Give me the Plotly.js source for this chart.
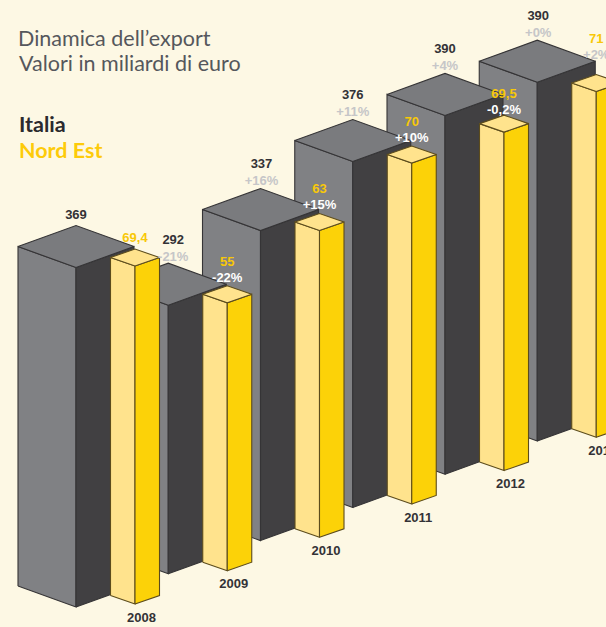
<!DOCTYPE html>
<html><head><meta charset="utf-8">
<script src="https://cdn.plot.ly/plotly-3.0.1.min.js"></script>
<style>html,body{margin:0;padding:0;background:#fdf8e4}#c{width:606px;height:627px}</style>
</head><body><div id="c"></div>
<script>
const years = ['2008','2009','2010','2011','2012','2013'];
const italia = [369,292,337,376,390,390];
const nordEst = [69.4,55,63,70,69.5,71];
const italiaPct = ['','-21%','+16%','+11%','+4%','+0%'];
const nordEstPct = ['','-22%','+15%','+10%','-0,2%','+2%'];
const nordEstLabels = ['69,4','55','63','70','69,5','71'];

const W=606,H=627;
const NARROW='"Liberation Sans", sans-serif';
const stepX=92.25;
// pixel geometry of the oblique projection
const G={x0:76, base:607, rise:33.2, scale:0.92, hw:58, hd:21, axis:'y',
  front:'#808184', side:'#414042', top:'#7a7b7e', line:'#353436'};
const Y={x0:135, base:604, rise:33.35, scale:4.87, hw:24.5, hd:8.5, axis:'y2',
  front:'#ffe38d', side:'#fcd208', top:'#ffe38d', line:'#5c4c1c'};
const GT=Object.assign({},G,{axis:'y3'});
const italiaShift=[0,5,1,0,0,1];
const italiaLift=[0,-1.5,0,0,0,0];
const nordEstLift=[0,0,0,0,-3.5,11.5];

function px(g,i,dx){ return (g.x0-G.x0+dx)/stepX + i; }
function py(g,i,v,up){ return v + (i*g.rise+up)/g.scale; }

function poly(g,i,pts,fill){
  return {type:'scatter',mode:'lines',xaxis:'x',yaxis:g.axis,hoverinfo:'skip',showlegend:false,
    x:pts.map(p=>px(g,i,p[0])), y:pts.map(p=>py(g,i,p[1],p[2])),
    fill:'toself',fillcolor:fill,line:{color:g.line,width:1.1}};
}
function bar(g,i,v){
  const a=g.hw,d=g.hd;
  return [
    poly(g,i,[[-a,0,d],[0,0,0],[0,v,0],[-a,v,d],[-a,0,d]],g.front),
    poly(g,i,[[0,0,0],[a,0,d],[a,v,d],[0,v,0],[0,0,0]],g.side),
    poly(g,i,[[-a,v,d],[0,v,0],[a,v,d],[0,v,2*d],[-a,v,d]],g.top)
  ];
}
const traces=[];
for(let k=years.length-1;k>=0;k--){ traces.push(...bar(G,k,italia[k])); }
for(let k=years.length-1;k>=0;k--){ traces.push(...bar(Y,k,nordEst[k])); }

function textTrace(g,vals,labels,offs,color,size,shift){
  return {type:'scatter',mode:'text',xaxis:'x',yaxis:g.axis,hoverinfo:'skip',showlegend:false,cliponaxis:false,
    x:vals.map((v,i)=>px(g,i,shift?shift[i]:0)),
    y:vals.map((v,i)=>py(g,i,v,2*g.hd+offs[i])),
    text:labels,textposition:'middle center',
    textfont:{family:NARROW,size:size,color:color,weight:700}};
}
const valOff=italiaPct.map(p=>p===''?10:23.5);
traces.push(textTrace(GT,italia,italia.map(String),valOff.map((o,i)=>o+italiaLift[i]),'#333236',13,italiaShift));
traces.push(textTrace(GT,italia,italiaPct,italia.map((v,i)=>6.5+italiaLift[i]),'#c6c6c8',13,italiaShift));
traces.push(textTrace(Y,nordEst,nordEstLabels,valOff.map((o,i)=>o+nordEstLift[i]),'#f8c808',13));
traces.push(textTrace(Y,nordEst,nordEstPct,nordEst.map((v,i)=>7.5+nordEstLift[i]),
  nordEstPct.map((p,i)=>i===nordEstPct.length-1?'#c6c6c8':'#ffffff'),13));
// year labels beneath the Nord Est front corner
traces.push({type:'scatter',mode:'text',xaxis:'x',yaxis:'y2',hoverinfo:'skip',showlegend:false,cliponaxis:false,
  x:years.map((y,i)=>px(Y,i,6.5)), y:years.map((y,i)=>py(Y,i,0,-14.5)),
  text:years,textposition:'middle center',
  textfont:{family:NARROW,size:13,color:'#333236',weight:700}});

const layout={
  width:W,height:H,margin:{l:0,r:0,t:0,b:0},
  paper_bgcolor:'#fdf8e4',plot_bgcolor:'#fdf8e4',showlegend:false,
  title:{text:'Dinamica dell’export',x:18/W,xanchor:'left',y:1-38/H,yanchor:'middle',
    font:{family:'Lato, sans-serif',size:21.5,color:'#55575c',weight:400}},
  xaxis:{range:[-G.x0/stepX,(W-G.x0)/stepX],visible:false,fixedrange:true},
  yaxis:{range:[(G.base-H)/G.scale,G.base/G.scale],visible:false,fixedrange:true},
  yaxis2:{range:[(Y.base-H)/Y.scale,Y.base/Y.scale],visible:false,overlaying:'y',fixedrange:true},
  yaxis3:{range:[(G.base-H)/G.scale,G.base/G.scale],visible:false,overlaying:'y',fixedrange:true},
  annotations:[
    {text:'Valori in miliardi di euro',xref:'paper',yref:'paper',x:17/W,y:1-63/H,xanchor:'left',yanchor:'middle',showarrow:false,
     font:{family:'Lato, sans-serif',size:21.5,color:'#55575c',weight:400}},
    {text:'<b>Italia</b>',xref:'paper',yref:'paper',x:17/W,y:1-124/H,xanchor:'left',yanchor:'middle',showarrow:false,
     font:{family:'Lato, sans-serif',size:21.5,color:'#2b2a2e'}},
    {text:'<b>Nord Est</b>',xref:'paper',yref:'paper',x:17/W,y:1-150/H,xanchor:'left',yanchor:'middle',showarrow:false,
     font:{family:'Lato, sans-serif',size:21.5,color:'#fdcb0a'}}
  ]
};
Plotly.newPlot('c',traces,layout,{displayModeBar:false,staticPlot:true});
</script></body></html>
